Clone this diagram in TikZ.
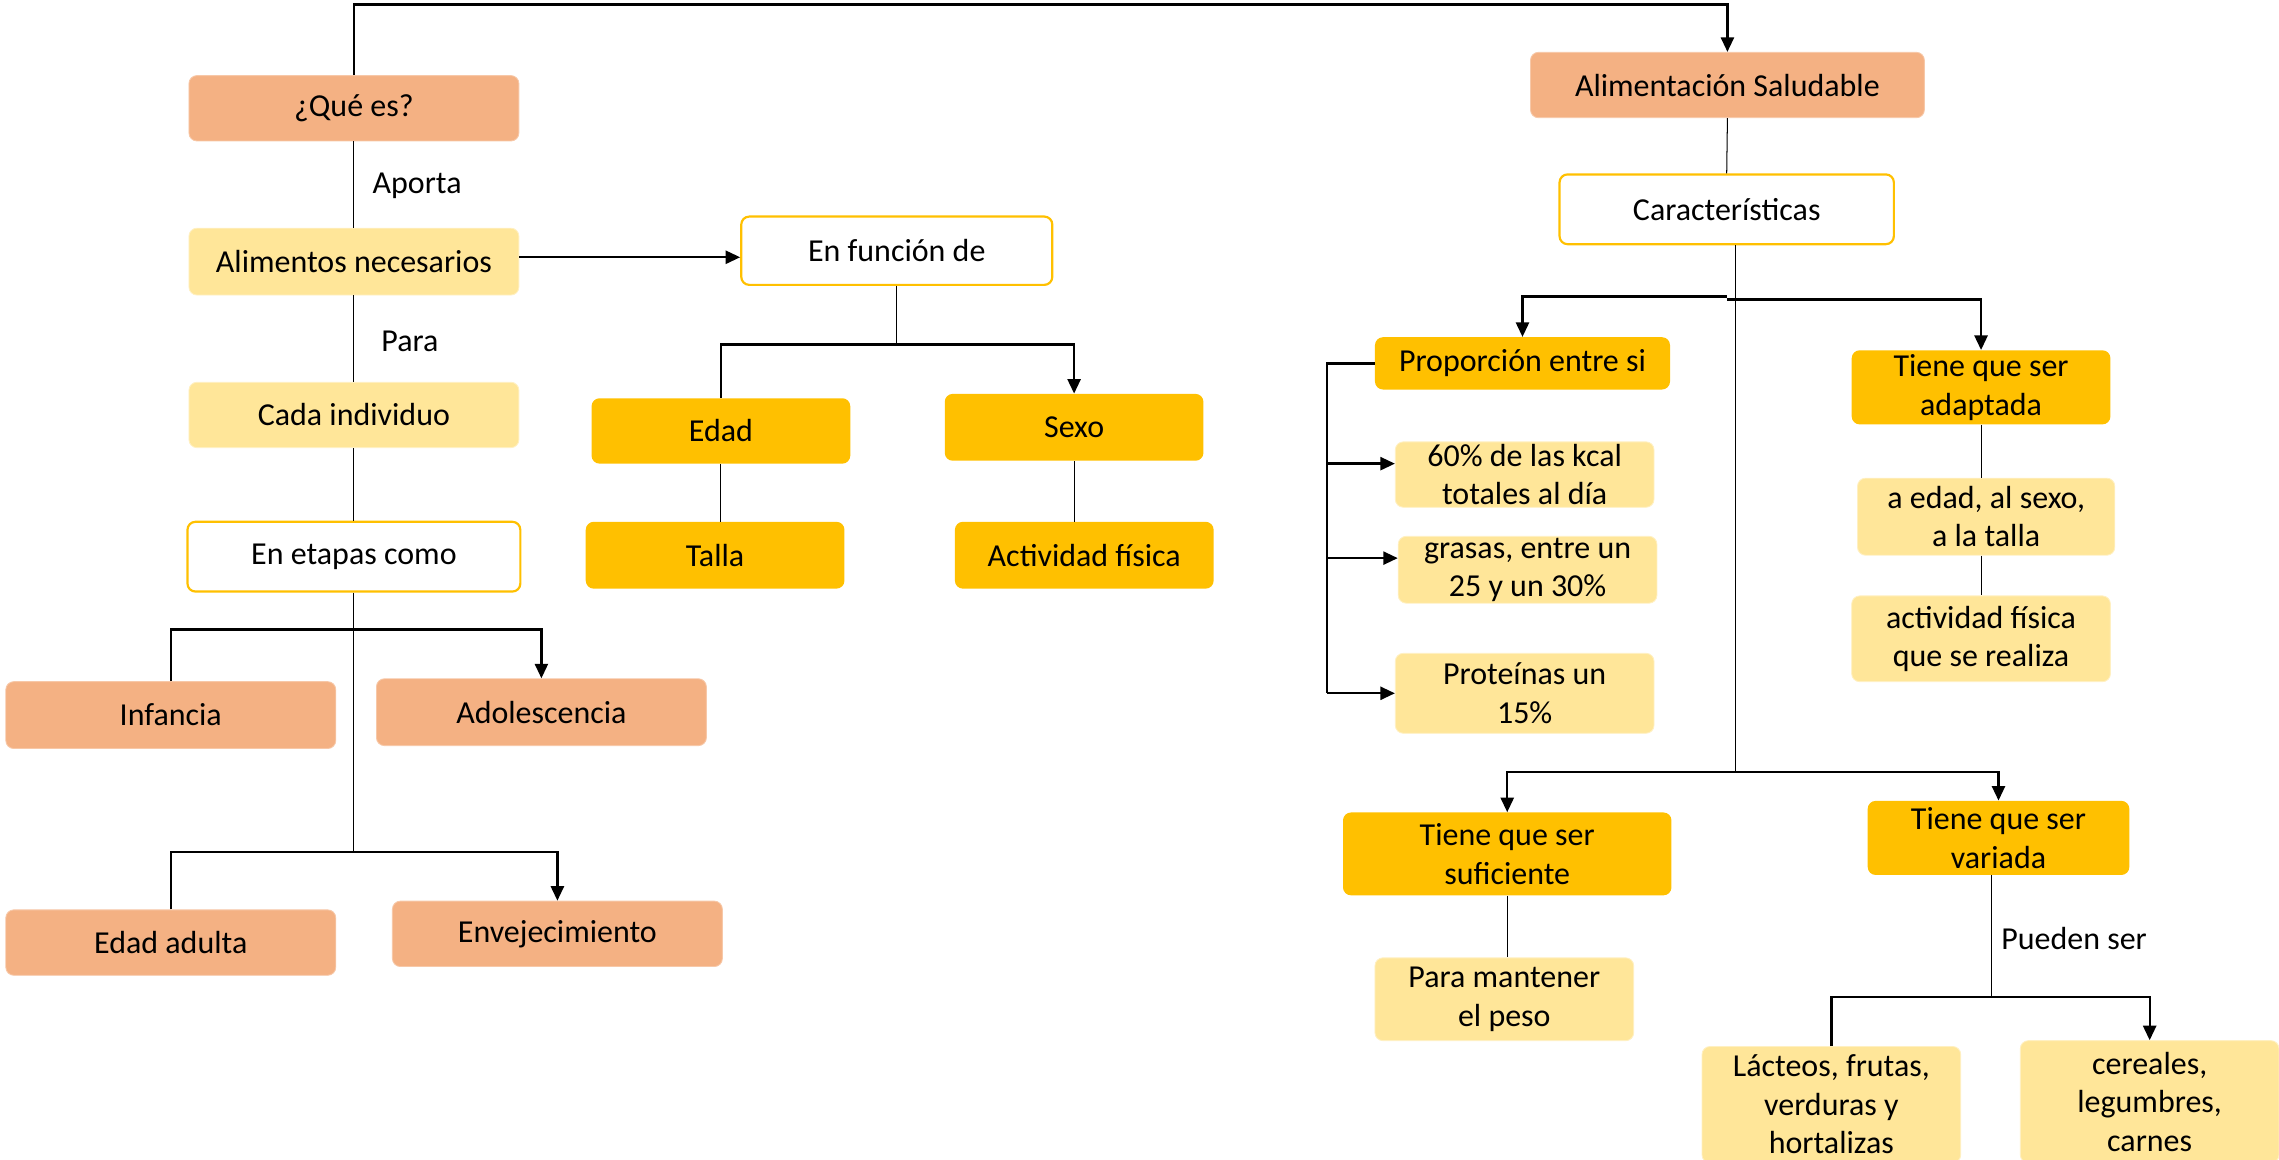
\documentclass[tikz,border=0pt]{standalone}
\usepackage{fontspec}
\setmainfont{Carlito}
\usetikzlibrary{arrows.meta,calc}
\definecolor{salm}{HTML}{F4B183}
\definecolor{lyel}{HTML}{FFE699}
\definecolor{gold}{HTML}{FFC000}
\begin{document}
\begin{tikzpicture}[x=1pt,y=-1pt,
 box/.style={rectangle,rounded corners=5.5pt,inner sep=0pt,align=center,font=\fontsize{22}{26.5}\selectfont},
 sbox/.style={box,fill=salm,draw=salm!70!white,line width=0.6pt},
 ybox/.style={box,fill=lyel,draw=lyel!60!white,line width=0.6pt},
 gbox/.style={box,fill=gold},
 wbox/.style={box,fill=white,draw=gold,line width=1.5pt},
 thn/.style={line width=0.7pt},
 thk/.style={line width=1.6pt},
 arr/.style={thk,-{Triangle[length=10pt,width=9pt]}},
 lbl/.style={font=\fontsize{22}{26.5}\selectfont,inner sep=0pt}]
\useasboundingbox (0,0) rectangle (1568,798);
% left column
\node[sbox,minimum width=227pt,minimum height=45pt] (q) at (243.5,74.5) {¿Qué es?};
\node[lbl] (aporta) at (287,128) {Aporta};
\node[ybox,minimum width=227pt,minimum height=46pt] (an) at (243.5,180) {Alimentos necesarios};
\node[lbl] (para) at (282,235) {Para};
\node[ybox,minimum width=227pt,minimum height=45pt] (ci) at (243.5,285.5) {Cada individuo};
\node[wbox,minimum width=229pt,minimum height=48pt] (ee) at (243.5,383) {En etapas como};
\node[sbox,minimum width=227pt,minimum height=46pt] (inf) at (117.5,492) {Infancia};
\node[sbox,minimum width=227pt,minimum height=46pt] (ado) at (372.5,490) {Adolescencia};
\node[sbox,minimum width=227pt,minimum height=45pt] (ead) at (117.5,648.5) {Edad adulta};
\node[sbox,minimum width=227pt,minimum height=45pt] (env) at (383.5,642.5) {Envejecimiento};
% middle
\node[wbox,minimum width=214pt,minimum height=47pt] (ef) at (617,172.5) {En función de};
\node[gbox,minimum width=178pt,minimum height=45pt] (ed) at (496,296.5) {Edad};
\node[gbox,minimum width=178pt,minimum height=46pt] (sx) at (739,294) {Sexo};
\node[gbox,minimum width=178pt,minimum height=46pt] (ta) at (492,382) {Talla};
\node[gbox,minimum width=178pt,minimum height=46pt] (af) at (746,382) {Actividad física};
% right
\node[sbox,minimum width=271pt,minimum height=45pt] (as) at (1188.5,58.5) {Alimentación Saludable};
\node[wbox,minimum width=230pt,minimum height=48pt] (ca) at (1188,144) {Características};
\node[gbox,minimum width=203pt,minimum height=36pt] (pr) at (1047.5,250) {Proporción entre si};
\node[ybox,minimum width=178pt,minimum height=45pt] (p1) at (1049,326.5) {60\% de las kcal\\totales al día};
\node[ybox,minimum width=178pt,minimum height=46pt] (p2) at (1051,392) {grasas, entre un\\25 y un 30\%};
\node[ybox,minimum width=178pt,minimum height=55pt] (p3) at (1049,477) {Proteínas un\\15\%};
\node[gbox,minimum width=178pt,minimum height=51pt] (ad) at (1363,266.5) {Tiene que ser\\adaptada};
\node[ybox,minimum width=177pt,minimum height=53pt] (a1) at (1366.5,355.5) {a edad, al sexo,\\a la talla};
\node[ybox,minimum width=178pt,minimum height=59pt] (a2) at (1363,439.5) {actividad física\\que se realiza};
\node[gbox,minimum width=226pt,minimum height=57pt] (su) at (1037,587.5) {Tiene que ser\\suficiente};
\node[ybox,minimum width=178pt,minimum height=57pt] (pe) at (1035,687.5) {Para mantener\\el peso};
\node[gbox,minimum width=180pt,minimum height=51pt] (va) at (1375,576.5) {Tiene que ser\\variada};
\node[lbl] (pu) at (1427,646) {Pueden ser};
\node[ybox,minimum width=178pt,minimum height=80pt] (la) at (1260,760) {Lácteos, frutas,\\verduras y\\hortalizas};
\node[ybox,minimum width=178pt,minimum height=84pt] (ce) at (1479,758) {cereales,\\legumbres,\\carnes};
% coordinates
\coordinate (j1) at (1194,531);
\coordinate (j2) at (1370,686);
\coordinate (bx) at (913,477);
% connectors left
\draw[arr] (q.north) -- (q.north |- 0,3) -| (as.north);
\draw[thn] (q.south) -- (an.north);
\draw[thn] (an.south) -- (ci.north);
\draw[thn] (ci.south) -- (ee.north);
\draw[thn] (ee.south) -- (ee.south |- 0,586);
\draw[arr] (inf.north) -- (inf.north |- 0,433) -| (ado.north);
\draw[arr] (ead.north) -- (ead.north |- 0,586) -| (env.north);
% middle
\draw[arr] (an.east |- 0,177) -- (ef.west |- 0,177);
\draw[thn] (ef.south) -- (ef.south |- 0,237);
\draw[arr] (ed.north) -- (ed.north |- 0,237) -| (sx.north);
\draw[thn] (ed.south) -- (ed.south |- ta.north);
\draw[thn] (sx.south) -- (sx.south |- af.north);
% right
\draw[thn] (as.south) -- (ca.north);
\draw[thn] (ca.south -| j1) -- (j1);
\draw[arr] (ca.south |- 0,204) -| (pr.north);
\draw[arr] (ca.south |- 0,206) -| (ad.north);
\draw[thk] (pr.west) -| (bx);
\draw[arr] (bx |- 0,319) -- (p1.west |- 0,319);
\draw[arr] (bx |- 0,384) -- (p2.west |- 0,384);
\draw[arr] (bx) -- (p3.west);
\draw[thn] (ad.south) -- (a1.north -| ad.south);
\draw[thn] (a1.south -| ad.south) -- (a2.north);
\draw[arr] (j1) -| (su.north);
\draw[arr] (j1) -| (va.north);
\draw[thn] (su.south) -- (su.south |- pe.north);
\draw[thn] (va.south -| j2) -- (j2);
\draw[arr] (la.north) -- (la.north |- j2) -| (ce.north);
\end{tikzpicture}
\end{document}
